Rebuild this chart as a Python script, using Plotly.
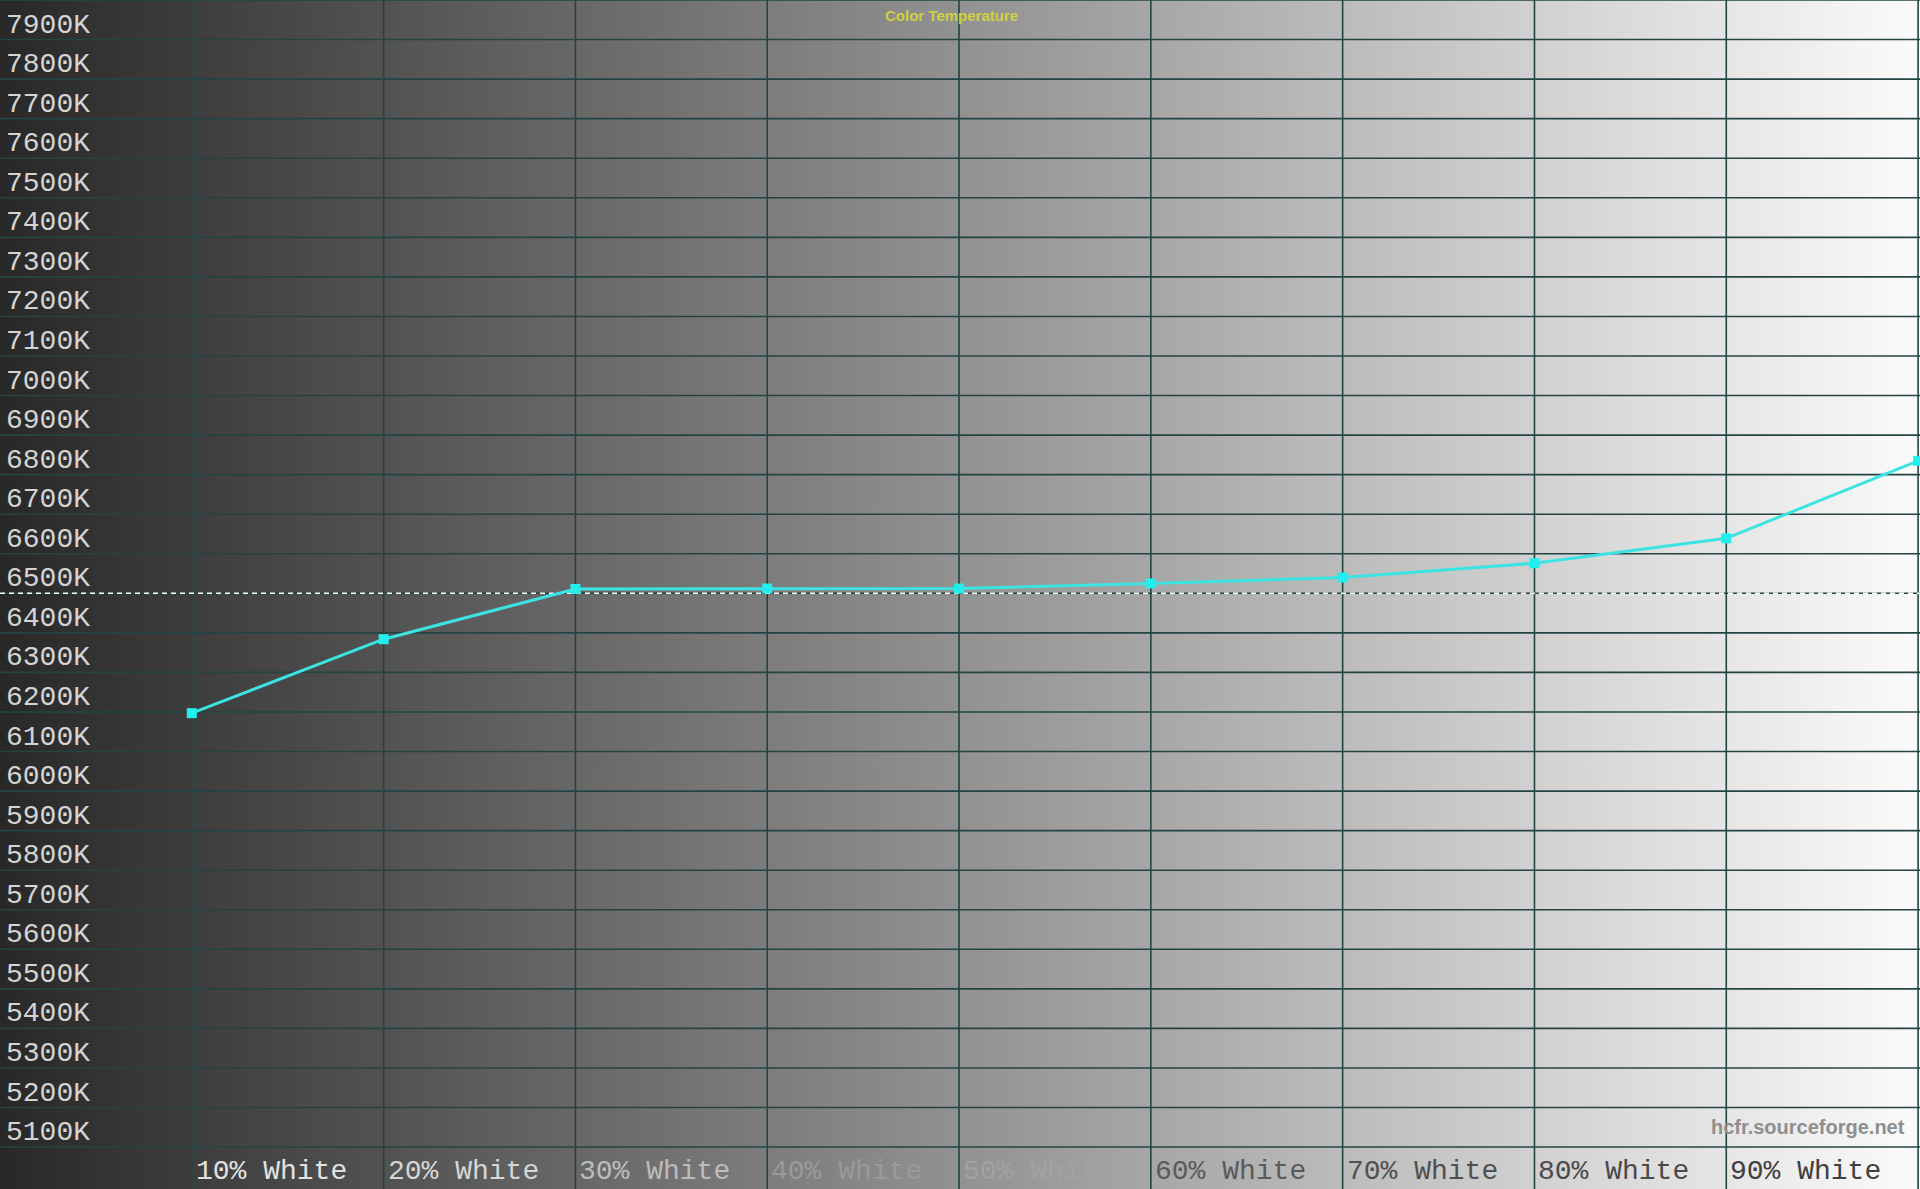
import plotly.graph_objects as go

# measured colour temperature per grey level
levels = [10, 20, 30, 40, 50, 60, 70, 80, 90, 100]
temps = [6197, 6384, 6511, 6512, 6512, 6525, 6540, 6576, 6639, 6835]

x_labels = ["10% White", "20% White", "30% White", "40% White", "50% White",
            "60% White", "70% White", "80% White", "90% White"]
x_label_colors = ["#e2e2e2", "#d6d6d6", "#bcbcbc", "#9a9a9a", "#a2a2a2",
                  "#5a5a5a", "#505050", "#4a4a4a", "#404040"]
y_ticks = list(range(5100, 8000, 100))
target_temp = 6500

x_min, x_max = 0, 100.1
y_min, y_max = 4994, 8000

fig = go.Figure()

# grey gradient background
fig.add_trace(go.Scatter(
    x=[x_min, x_max, x_max, x_min, x_min],
    y=[y_min, y_min, y_max, y_max, y_min],
    mode="lines", line=dict(width=0), fill="toself",
    fillgradient=dict(type="horizontal",
                      colorscale=[[0, "#282828"], [1, "#fbfbfb"]]),
    hoverinfo="skip", showlegend=False))

# grid
gx, gy = [], []
for v in levels:
    gx += [v, v, None]
    gy += [y_min, y_max, None]
for t in y_ticks + [8000]:
    gx += [x_min, x_max, None]
    gy += [t, t, None]
fig.add_trace(go.Scatter(x=gx, y=gy, mode="lines",
                         line=dict(color="#244444", width=1.6),
                         hoverinfo="skip", showlegend=False))

# 6500K reference
fig.add_trace(go.Scatter(x=[x_min, x_max], y=[target_temp, target_temp], mode="lines",
                         line=dict(color="#ffffff", width=1.5, dash="5px,4px"),
                         hoverinfo="skip", showlegend=False))

fig.add_trace(go.Scatter(x=levels, y=temps, mode="lines+markers",
                         line=dict(color="#3de3e3", width=3),
                         marker=dict(symbol="square", size=10, color="#22eeee"),
                         showlegend=False))

mono = "Courier New, Liberation Mono, monospace"
for t in y_ticks:
    fig.add_annotation(x=x_min, y=t, xref="x", yref="y", text=f"{t}K",
                       showarrow=False, xanchor="left", yanchor="bottom",
                       xshift=4, yshift=-3,
                       font=dict(family=mono, size=28, color="#d4d4d4"))

for v, lab, c in zip(levels, x_labels, x_label_colors):
    fig.add_annotation(x=v, y=0, xref="x", yref="paper", text=lab,
                       showarrow=False, xanchor="left", yanchor="bottom",
                       xshift=2, yshift=0,
                       font=dict(family=mono, size=28, color=c))

fig.add_annotation(x=0.4956, y=1, xref="paper", yref="paper",
                   text="<b>Color Temperature</b>",
                   showarrow=False, xanchor="center", yanchor="top", yshift=-5,
                   font=dict(family="Liberation Sans, Arial", size=15, color="#cfd040"))
fig.add_annotation(x=1907 / 1920, y=1 - 1127 / 1189, xref="paper", yref="paper",
                   text="<b>hcfr.sourceforge.net</b>", showarrow=False,
                   xanchor="right", yanchor="middle",
                   font=dict(family="Liberation Sans, Arial", size=20, color="#8e8e8e"))

fig.update_xaxes(range=[x_min, x_max], showgrid=False, zeroline=False,
                 showticklabels=False, fixedrange=True)
fig.update_yaxes(range=[y_min, y_max], showgrid=False, zeroline=False,
                 showticklabels=False, fixedrange=True)
fig.update_layout(width=1920, height=1189, margin=dict(l=0, r=0, t=0, b=0),
                  paper_bgcolor="#2a2a2a", plot_bgcolor="#2a2a2a")

fig.write_html("out.html", config={"displayModeBar": False},
               post_script="document.body.style.margin='0';"
                           "document.body.style.overflow='hidden';")
